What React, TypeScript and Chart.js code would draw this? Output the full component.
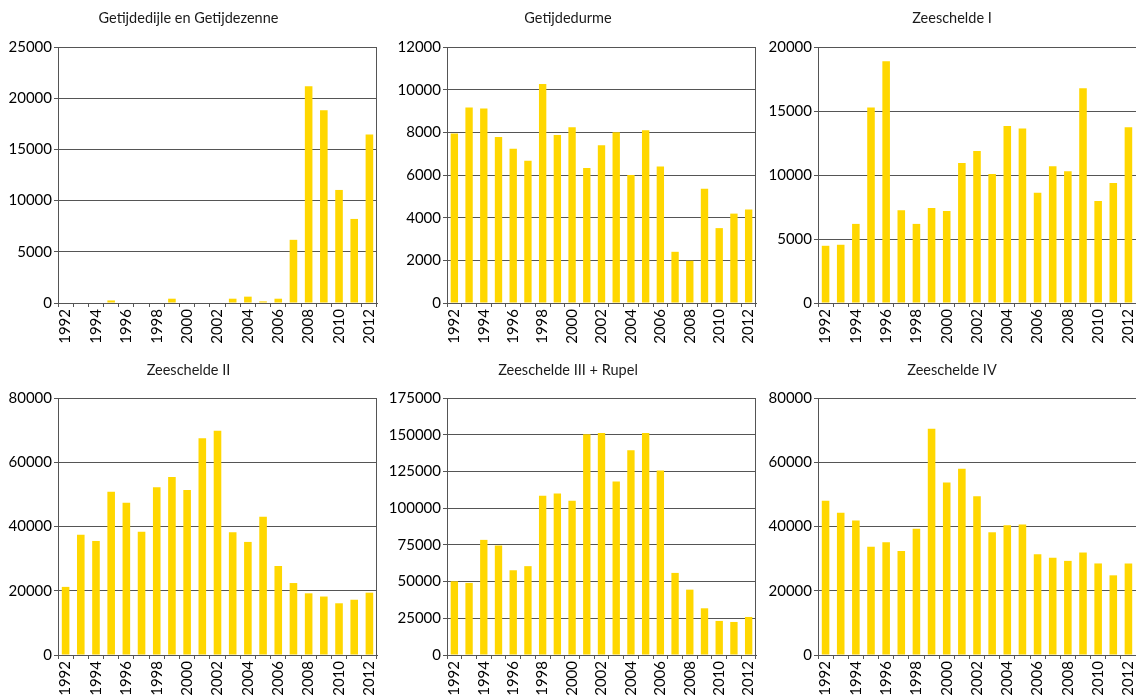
import React, { useEffect, useRef } from "react";
import { Chart, registerables } from "chart.js";

Chart.register(...registerables);

// ---- data ----
const years = [
  "1992", "1993", "1994", "1995", "1996", "1997", "1998", "1999", "2000", "2001", "2002",
  "2003", "2004", "2005", "2006", "2007", "2008", "2009", "2010", "2011", "2012",
];

const getijdedijleValues = [
  0, 0, 0, 250, 0, 0, 0, 420, 0, 0, 0, 420, 620, 160, 420, 6170, 21170, 18830, 11040, 8210, 16460,
];
const getijdedurmeValues = [
  7950, 9160, 9120, 7780, 7230, 6670, 10270, 7870, 8240, 6330, 7390, 8000, 6000, 8100, 6400, 2400,
  1980, 5360, 3510, 4190, 4380,
];
const zeeschelde1Values = [
  4470, 4550, 6180, 15270, 18880, 7250, 6180, 7430, 7190, 10940, 11870, 10080, 13820, 13640, 8620,
  10680, 10290, 16780, 7970, 9380, 13740,
];
const zeeschelde2Values = [
  21200, 37400, 35500, 50800, 47400, 38400, 52200, 55400, 51400, 67500, 69800, 38200, 35200, 43000,
  27700, 22400, 19200, 18200, 16100, 17200, 19400,
];
const zeeschelde3Values = [
  50200, 49100, 78400, 74500, 57700, 60500, 108400, 110000, 105000, 150400, 151100, 118200, 139500,
  151100, 125700, 55900, 44500, 31800, 23200, 22500, 25900,
];
const zeeschelde4Values = [
  48000, 44300, 41900, 33700, 35100, 32400, 39300, 70400, 53700, 58000, 49400, 38200, 40400, 40600,
  31400, 30300, 29300, 31900, 28500, 24800, 28500,
];

const titles = [
  "Getijdedijle en Getijdezenne",
  "Getijdedurme",
  "Zeeschelde I",
  "Zeeschelde II",
  "Zeeschelde III + Rupel",
  "Zeeschelde IV",
];
const yMaxima = [25000, 12000, 20000, 80000, 175000, 80000];
const ySteps = [5000, 2000, 5000, 20000, 25000, 20000];
const seriesList = [
  getijdedijleValues,
  getijdedurmeValues,
  zeeschelde1Values,
  zeeschelde2Values,
  zeeschelde3Values,
  zeeschelde4Values,
];

// ---- layout (page pixels) ----
const columns = [
  { left: 0, width: 386, yAxisWidth: 58, padRight: 9, rightBorder: true },
  { left: 380, width: 384, yAxisWidth: 67, padRight: 8, rightBorder: true },
  { left: 768, width: 368, yAxisWidth: 50, padRight: 0, rightBorder: false },
];
const rows = [
  { top: 0, height: 345, titleCenter: 18, plotTop: 47, plotBottom: 303 },
  { top: 350, height: 347, titleCenter: 20, plotTop: 48, plotBottom: 305 },
];

const BAR_COLOR = "#FFD700";
const GRID_COLOR = "#555555";
const FONT_FAMILY = "Lato, 'Open Sans', sans-serif";
const TITLE_SIZE = 14.5;
const TICK_SIZE = 15;

const framePlugin = {
  id: "frameRight",
  afterDraw(chart: any, _args: any, opts: any) {
    if (!opts || !opts.enabled) return;
    const { ctx, chartArea } = chart;
    const x = Math.round(chartArea.right) - 0.5;
    ctx.save();
    ctx.strokeStyle = GRID_COLOR;
    ctx.lineWidth = 1;
    ctx.beginPath();
    ctx.moveTo(x, Math.round(chartArea.top));
    ctx.lineTo(x, Math.round(chartArea.bottom));
    ctx.stroke();
    ctx.restore();
  },
};

type PanelProps = {
  index: number;
};

function Panel({ index }: PanelProps) {
  const ref = useRef<HTMLCanvasElement | null>(null);
  const col = columns[index % 3];
  const row = rows[Math.floor(index / 3)];

  useEffect(() => {
    if (!ref.current) return;
    const lineH = TITLE_SIZE * 1.2;
    const padTop = row.titleCenter - lineH / 2;
    const padBottom = row.plotTop - padTop - lineH;
    const xAxisHeight = row.height - row.plotBottom;
    const chart = new Chart(ref.current, {
      type: "bar",
      data: {
        labels: years,
        datasets: [
          {
            data: seriesList[index],
            backgroundColor: BAR_COLOR,
            borderWidth: 0,
            barPercentage: 0.5,
            categoryPercentage: 1.0,
          },
        ],
      },
      plugins: [framePlugin],
      options: {
        animation: false,
        responsive: false,
        maintainAspectRatio: false,
        layout: { padding: { left: 0, right: col.padRight, top: 0, bottom: 0 } },
        plugins: {
          legend: { display: false },
          tooltip: { enabled: false },
          title: {
            display: true,
            text: titles[index],
            color: "#1a1a1a",
            font: { family: FONT_FAMILY, size: TITLE_SIZE, weight: "normal", lineHeight: 1.2 },
            padding: { top: padTop, bottom: padBottom },
          },
          frameRight: { enabled: col.rightBorder },
        } as any,
        scales: {
          x: {
            offset: true,
            grid: {
              offset: true,
              drawOnChartArea: false,
              drawTicks: true,
              tickLength: 4,
              color: GRID_COLOR,
            },
            border: { display: true, color: GRID_COLOR },
            ticks: {
              autoSkip: false,
              minRotation: 90,
              maxRotation: 90,
              padding: 2,
              color: "#000",
              font: { family: FONT_FAMILY, size: TICK_SIZE },
              callback: (_v: any, i: number) => (i % 2 === 0 ? years[i] : ""),
            },
            afterFit: (scale: any) => {
              scale.height = xAxisHeight;
              scale.paddingLeft = 0;
              scale.paddingRight = 0;
            },
          },
          y: {
            min: 0,
            max: yMaxima[index],
            grid: {
              color: GRID_COLOR,
              tickLength: 4,
              drawTicks: true,
            },
            border: { display: true, color: GRID_COLOR },
            ticks: {
              stepSize: ySteps[index],
              padding: 2,
              color: "#000",
              font: { family: FONT_FAMILY, size: TICK_SIZE },
              callback: (v: any) => String(v),
            },
            afterFit: (scale: any) => {
              scale.width = col.yAxisWidth;
              scale.paddingTop = 0;
              scale.paddingBottom = 0;
            },
          },
        },
      } as any,
    });
    return () => chart.destroy();
  }, [index]);

  return (
    <canvas
      ref={ref}
      width={col.width}
      height={row.height}
      style={{
        position: "absolute",
        left: col.left,
        top: row.top,
        width: col.width,
        height: row.height,
      }}
    />
  );
}

export default function App() {
  return (
    <div
      style={{
        position: "absolute",
        left: 0,
        top: 0,
        width: 1136,
        height: 697,
        overflow: "hidden",
        background: "#fff",
      }}
    >
      {titles.map((_t, i) => (
        <Panel key={i} index={i} />
      ))}
    </div>
  );
}
